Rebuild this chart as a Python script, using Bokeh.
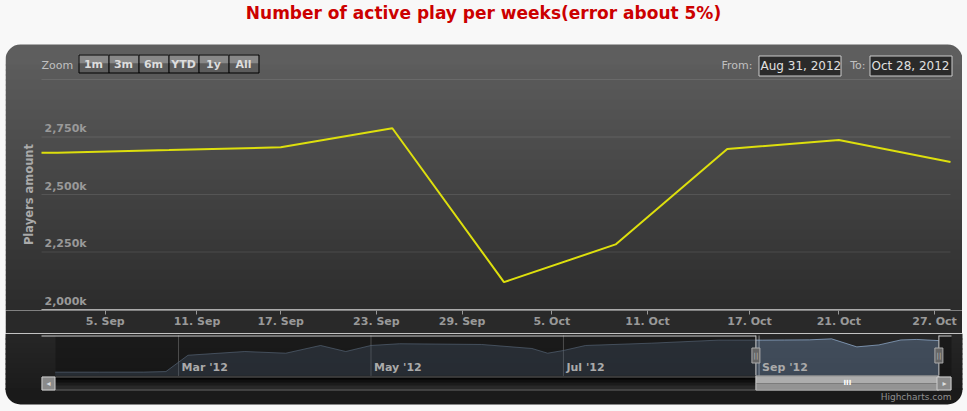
import numpy as np
import pandas as pd
from bokeh.plotting import figure
from bokeh.models import Range1d, FixedTicker, BoxAnnotation, Label, ColumnDataSource, Spacer
from bokeh.layouts import column, row
from bokeh.embed import file_html
from bokeh.resources import INLINE
from bokeh.core.properties import value

# ---------------- data ----------------
TITLE = "Number of active play per weeks(error about 5%)"
Y_TITLE = "Players amount"

dates = ["2012-01-22", "2012-02-05", "2012-02-19", "2012-02-26", "2012-03-04", "2012-03-11",
         "2012-03-22", "2012-04-04", "2012-04-15", "2012-04-23", "2012-05-01", "2012-05-10",
         "2012-06-05", "2012-06-21", "2012-06-26", "2012-07-01", "2012-07-08", "2012-07-29",
         "2012-08-19", "2012-09-02", "2012-09-09", "2012-09-17", "2012-09-24", "2012-10-02",
         "2012-10-09", "2012-10-16", "2012-10-21", "2012-10-28"]
players_k = [10, 10, 15, 60, 1420, 1540,
             1730, 1590, 2235, 1730, 2235, 2377,
             2318, 1984, 1590, 1816, 2235, 2427,
             2679, 2682, 2693, 2705, 2788, 2119,
             2283, 2698, 2737, 2641]

range_from = "2012-08-31"
range_to = "2012-10-28"
range_from_label = "Aug 31, 2012"
range_to_label = "Oct 28, 2012"

x_tick_dates = ["2012-09-05", "2012-09-11", "2012-09-17", "2012-09-23", "2012-09-29",
                "2012-10-05", "2012-10-11", "2012-10-17", "2012-10-21", "2012-10-27"]
x_tick_labels = ["5. Sep", "11. Sep", "17. Sep", "23. Sep", "29. Sep",
                 "5. Oct", "11. Oct", "17. Oct", "21. Oct", "27. Oct"]
y_ticks = [2000, 2250, 2500, 2750, 3000]
y_tick_labels = ["2,000k", "2,250k", "2,500k", "2,750k"]
zoom_buttons = ["1m", "3m", "6m", "YTD", "1y", "All"]
nav_tick_dates = ["2012-03-01", "2012-05-01", "2012-07-01", "2012-09-01"]
nav_tick_labels = ["Mar '12", "May '12", "Jul '12", "Sep '12"]
nav_start = "2012-01-22"
nav_end = "2012-11-01"

# ---------------- helpers ----------------
FONT = "DejaVu Sans"
PAGE = "#f8f8f8"
W, H1, H2 = 967, 333, 78
PX0, PX1 = 5, 962          # dark panel left/right edges (page pixels)
OFF = {}                    # x offset of each figure's canvas on the page


def ms(d):
    return pd.to_datetime(d).value / 1e6


dt_ms = np.array([ms(d) for d in dates])
ordinal = np.arange(len(dates), dtype=float)


def to_idx(d):
    return float(np.interp(ms(d), dt_ms, ordinal))


def panel_color(y_ref):
    v = 96 - 80 * (y_ref - 44) / 400.0
    v = int(round(max(16, min(96, v))))
    return "#%02x%02x%02x" % (v, v, v)


def box(fig, l, r, t, b, color, level="annotation", radius=0, line=None, lu="canvas", ru="canvas",
        tu="canvas", bu="canvas", alpha=1.0):
    o = OFF.get(id(fig), 0)
    if lu == "canvas":
        l = l - o
    if ru == "canvas":
        r = r - o
    fig.add_layout(BoxAnnotation(left=l, right=r, top=t, bottom=b,
                                 left_units=lu, right_units=ru, top_units=tu, bottom_units=bu,
                                 fill_color=color, fill_alpha=alpha if color else 0,
                                 line_color=line, line_alpha=1, line_width=1,
                                 level=level, border_radius=radius))


def label(fig, x, y, text, size, color, bold=False, align="left", baseline="middle", xu="canvas", angle=0):
    if xu == "canvas":
        x = x - OFF.get(id(fig), 0)
    fig.add_layout(Label(x=x, y=y, x_units=xu, y_units="canvas", text=text, angle=angle,
                         text_font=FONT, text_font_size=size, text_color=color,
                         text_font_style="bold" if bold else "normal",
                         text_align=align, text_baseline=baseline, level="overlay"))


def shade(fig, ya, yb, y_off):
    y = ya
    while y < yb:
        y2 = min(y + 5, yb)
        c = panel_color((y + y2) / 2.0 + y_off)
        bb = y2 + (1 if y2 < yb else 0)
        box(fig, PX0, PX1, y, bb, c, "image")
        y = y2


# ---------------- main chart ----------------
W1 = PX1 - PX0                                   # figure 1 spans the panel width only
FL, FR, FT, FB = 41, 950, 79, 309                 # plot area in page pixels
FRAME_B = FB + 1                                  # frame extends 1px below the x axis line
x0, x1 = to_idx(range_from), to_idx(range_to)
sx = (x1 - x0) / (FR - FL)
ky = (y_ticks[-1] - y_ticks[0]) / (FB - FT)
p = figure(width=W1, height=H1, output_backend="svg", toolbar_location=None,
           x_range=Range1d(x0 - (FL - PX0) * sx, x1 + (PX1 - FR) * sx),
           y_range=Range1d(y_ticks[0] - (FRAME_B - FB) * ky, y_ticks[-1] + FT * ky),
           y_axis_location=None,
           min_border_left=0, min_border_right=0, min_border_top=0, min_border_bottom=H1 - FRAME_B,
           background_fill_color=PAGE, border_fill_color=panel_color(321), outline_line_color=None)
OFF[id(p)] = PX0
p.grid.visible = False

# panel background (gradient, rounded top)
box(p, PX0, PX1, 44, 65, panel_color(52), "image", radius=(15, 15, 0, 0))
shade(p, 64, FRAME_B, 0)

tick_idx = [to_idx(d) for d in x_tick_dates]
p.xaxis.ticker = FixedTicker(ticks=tick_idx)
p.xaxis.major_label_overrides = {t: l for t, l in zip(tick_idx, x_tick_labels)}
p.xaxis.axis_label = None
p.xaxis.axis_line_color = None
p.xaxis.major_tick_line_color = "#999999"
p.xaxis.major_tick_out = 4
p.xaxis.major_tick_in = 0
p.xaxis.minor_tick_line_color = None
p.xaxis.major_label_standoff = 0
p.xaxis.major_label_text_color = "#999999"
p.xaxis.major_label_text_font = FONT
p.xaxis.major_label_text_font_style = "bold"
p.xaxis.major_label_text_font_size = "11px"

# horizontal grid lines and the x axis line
p.segment(x0=[x0] * len(y_ticks), y0=y_ticks, x1=[x1] * len(y_ticks), y1=y_ticks,
          line_color="white", line_alpha=0.1, line_width=1, level="underlay")
p.segment(x0=[x0], y0=[y_ticks[0]], x1=[x1], y1=[y_ticks[0]],
          line_color="#AAAAAA", line_width=1, level="underlay")

p.text(x=[x0] * len(y_tick_labels), y=y_ticks[:len(y_tick_labels)], text=y_tick_labels,
       x_offset=3, y_offset=-2, text_align="left", text_baseline="bottom",
       text_color="#999999", text_font=value(FONT), text_font_style="bold", text_font_size="11px")

# visible part of the series (clipped to the selected range)
vis_x = [x0] + [i for i in ordinal if x0 < i < x1] + [x1]
vis_y = list(np.interp(vis_x, ordinal, players_k))
p.line(x=vis_x, y=vis_y, line_color="#DDDF0D", line_width=2)

label(p, 28, (FT + FB) / 2, Y_TITLE, "11.5px", "#AAAAAA", bold=True, align="center", angle=np.pi / 2)

# range selector
label(p, 41, 65, "Zoom", "11px", "#C0C0C0")
for i, name in enumerate(zoom_buttons):
    bx0 = 78 + 30 * i
    box(p, bx0, bx0 + 30, 54, 63, "#888888")
    box(p, bx0, bx0 + 30, 63, 72, "#5c5c5c")
    box(p, bx0 + 0.5, bx0 + 30.5, 54.5, 72.5, None, line="#000000")
    label(p, bx0 + 15, 63.5, name, "11px", "#DDDDDD", bold=True, align="center")

label(p, 752, 65, "From:", "11px", "#C0C0C0", align="right")
box(p, 758.5, 840.5, 55.5, 75.5, "#2a2a2a", line="#CCCCCC")
label(p, 760, 65.5, range_from_label, "12px", "#E0E0E0")
label(p, 865, 65, "To:", "11px", "#C0C0C0", align="right")
box(p, 869.5, 951.5, 55.5, 75.5, "#2a2a2a", line="#CCCCCC")
label(p, 871, 65.5, range_to_label, "12px", "#E0E0E0")

# title (fits inside the panel-wide figure)
label(p, 483, 12, TITLE, "17px", "#CC0000", bold=True, align="center")

# ---------------- navigator ----------------
NL, NR, NT, NB = 55, 951, 2, 42           # navigator area in canvas pixels (figure 2)
ymin, ymax = min(players_k), max(players_k)
pad = 0.1 * (ymax - ymin)
lo, hi = ymin - pad, ymax + pad
n0, n1 = ms(nav_start), ms(nav_end)
nsx = (n1 - n0) / (NR - NL)
nsy = (hi - lo) / (NB - NT)
p2 = figure(width=W, height=H2, output_backend="svg", toolbar_location=None,
            x_axis_location=None, y_axis_location=None,
            x_range=Range1d(n0 - NL * nsx, n1 + (W - NR) * nsx),
            y_range=Range1d(lo - (H2 - NB) * nsy, hi + NT * nsy),
            min_border_left=0, min_border_right=0, min_border_top=0, min_border_bottom=0,
            background_fill_color=PAGE, border_fill_color=PAGE, outline_line_color=None)
p2.grid.visible = False

shade(p2, 0, 56, H1)
box(p2, PX0, PX1, 55, 71, panel_color(396), "image", radius=(0, 0, 15, 15))

nav_ticks = [ms(d) for d in nav_tick_dates]
p2.segment(x0=nav_ticks, y0=[lo] * len(nav_ticks), x1=nav_ticks, y1=[hi] * len(nav_ticks),
           line_color="#8a8a8a", line_width=1, level="underlay")

src = ColumnDataSource(dict(x=dt_ms, y=players_k))
p2.varea(x="x", y1=lo, y2="y", source=src, fill_color="#7798BF", fill_alpha=0.35)
p2.line(x="x", y="y", source=src, line_color="#A6C7ED", line_width=1, line_alpha=0.6)

f_ms, t_ms = ms(range_from), ms(range_to)
box(p2, n0, f_ms, hi, lo, "#101010", alpha=0.5, lu="data", ru="data", tu="data", bu="data")
box(p2, t_ms, n1, hi, lo, "#101010", alpha=0.5, lu="data", ru="data", tu="data", bu="data")

p2.text(x=nav_ticks, y=[lo] * len(nav_ticks), text=nav_tick_labels, x_offset=3, y_offset=-2,
        text_align="left", text_baseline="bottom", text_color="#AAAAAA",
        text_font=value(FONT), text_font_style="bold", text_font_size="11px", level="overlay")

# outline
box(p2, 41, f_ms, NT, NT + 1, "#CCCCCC", ru="data")
box(p2, t_ms, NR, NT, NT + 1, "#CCCCCC", lu="data")
p2.segment(x0=[f_ms, t_ms], y0=[lo, lo], x1=[f_ms, t_ms], y1=[hi, hi],
           line_color="#CCCCCC", line_width=1, level="overlay")

# scrollbar
track = ["#050505", "#0f0f0f", "#1b1b1b", "#282828"]
for i, c in enumerate(track):
    box(p2, 41, NR, 43 + 3 * i, 47 + 3 * i if i < 3 else 56, c)
box(p2, 41.5, NR - 0.5, 43.5, 56.5, None, line="#666666")
box(p2, f_ms, t_ms, 43, 50, "#adadad", lu="data", ru="data")
box(p2, f_ms, t_ms, 50, 56, "#939393", lu="data", ru="data")
box(p2, f_ms, t_ms, 42.5, 56.5, None, line="#CCCCCC", lu="data", ru="data")
label(p2, (f_ms + t_ms) / 2, 49.5, "III", "7px", "#FFFFFF", bold=True, align="center", xu="data")
box(p2, 41.5, 54.5, 43.5, 56.5, "#8a8a8a", line="#CCCCCC")
label(p2, 48, 49.5, "\u25c2", "8px", "#DDDDDD", align="center")
box(p2, 936.5, NR - 0.5, 43.5, 56.5, "#8a8a8a", line="#CCCCCC")
label(p2, 944, 49.5, "\u25b8", "8px", "#DDDDDD", align="center")

# handles
p2.rect(x=[f_ms, t_ms], y=[(lo + hi) / 2] * 2, width=8, height=15, width_units="screen",
        height_units="screen", fill_color="#666666", line_color="#AAAAAA", level="overlay")
p2.text(x=[f_ms, t_ms], y=[(lo + hi) / 2] * 2, text=["||", "||"], text_align="center",
        text_baseline="middle", text_color="#BBBBBB", text_font=value(FONT),
        text_font_size="7px", level="overlay")

label(p2, NR, 63, "Highcharts.com", "9px", "#909090", align="right")

bg = {"background-color": PAGE}
top = row(Spacer(width=PX0, height=H1, styles=bg), p, Spacer(width=W - PX1, height=H1, styles=bg),
          spacing=0, styles=bg)
layout = column(top, p2, spacing=0, styles=bg)
open("out.html", "w").write(file_html(layout, INLINE))
